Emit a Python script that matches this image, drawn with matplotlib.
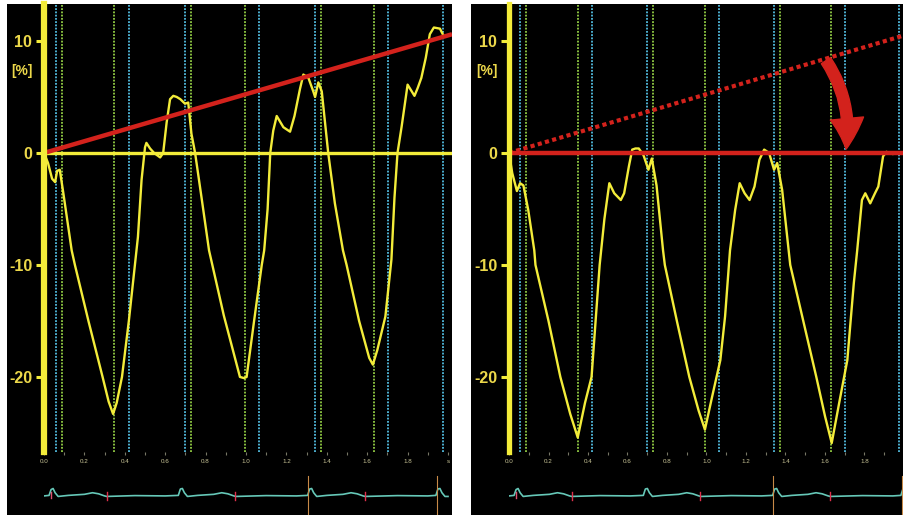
import matplotlib
matplotlib.use('Agg')
import matplotlib.pyplot as plt
from matplotlib.patches import FancyArrowPatch

plt.rcParams['font.family'] = ['Liberation Sans', 'DejaVu Sans']

#%% Data (strain %, time s)

# before drift correction
t_raw = [0.00, 0.02, 0.04, 0.055, 0.065, 0.078, 0.095, 0.137, 0.153, 0.22, 0.29, 0.32, 0.342,
         0.36, 0.386, 0.42, 0.45, 0.465, 0.483, 0.50, 0.507, 0.525, 0.545, 0.575, 0.59, 0.607,
         0.624, 0.64, 0.657, 0.675, 0.698, 0.714, 0.73, 0.748, 0.78, 0.817, 0.89, 0.97, 0.99,
         1.003, 1.04, 1.078, 1.09, 1.107, 1.12, 1.135, 1.152, 1.185, 1.218, 1.24, 1.267, 1.284,
         1.309, 1.333, 1.342, 1.358, 1.375, 1.407, 1.44, 1.48, 1.498, 1.56, 1.61, 1.628, 1.65,
         1.69, 1.72, 1.735, 1.75, 1.77, 1.80, 1.834, 1.85, 1.868, 1.89, 1.91, 1.93, 1.96, 1.98]
s_raw = [0.0, -0.9, -2.3, -2.6, -1.6, -1.5, -3.5, -8.7, -10.0, -15.0, -20.0, -22.2, -23.3,
         -22.3, -20.0, -15.0, -10.0, -7.5, -2.4, 0.5, 0.9, 0.4, 0.0, -0.4, 0.0, 2.7,
         4.8, 5.1, 5.0, 4.8, 4.4, 4.5, 1.7, 0.0, -4.0, -8.7, -14.5, -20.0, -20.1,
         -20.0, -15.0, -10.0, -8.7, -5.0, 0.0, 2.0, 3.3, 2.3, 1.9, 3.3, 5.7, 7.0,
         6.7, 5.5, 5.0, 6.3, 5.5, 0.0, -4.5, -8.7, -10.0, -15.0, -18.3, -18.9, -17.6,
         -14.6, -9.5, -4.0, 0.0, 2.3, 6.1, 5.1, 5.8, 6.7, 8.5, 10.6, 11.2, 11.1, 10.4]

# after drift correction
t_cor = [0.00, 0.0165, 0.04, 0.056, 0.073, 0.0975, 0.128, 0.134, 0.20, 0.26, 0.31, 0.348,
         0.385, 0.418, 0.459, 0.483, 0.508, 0.533, 0.566, 0.583, 0.607, 0.624, 0.64, 0.657,
         0.681, 0.706, 0.723, 0.747, 0.78, 0.789, 0.85, 0.913, 0.96, 0.992, 1.028, 1.07,
         1.094, 1.119, 1.145, 1.168, 1.193, 1.218, 1.243, 1.268, 1.292, 1.317, 1.342, 1.358,
         1.383, 1.416, 1.424, 1.49, 1.556, 1.60, 1.634, 1.672, 1.713, 1.746, 1.763, 1.787,
         1.804, 1.829, 1.853, 1.87, 1.894, 1.911, 1.944, 1.955]
s_cor = [0.0, -1.8, -3.4, -2.7, -2.9, -5.1, -8.7, -10.0, -15.0, -20.0, -23.3, -25.4,
         -22.3, -20.0, -10.0, -5.9, -2.7, -3.6, -4.2, -3.6, -1.2, 0.3, 0.4, 0.4,
         -0.2, -1.5, -0.5, -2.9, -8.7, -10.0, -15.0, -20.0, -23.0, -24.7, -21.8, -18.5,
         -14.6, -8.7, -5.1, -2.7, -3.6, -4.2, -3.0, -0.6, 0.3, 0.0, -1.5, -0.9,
         -3.3, -8.7, -10.0, -15.0, -20.0, -23.5, -25.9, -22.3, -18.5, -11.6, -8.7, -4.2,
         -3.6, -4.5, -3.6, -3.0, -0.3, 0.1, -0.1, 0.0]

# drift line end points
drift_t = [0.0, 2.02]
drift_s = [0.0, 10.6]

# event markers (dotted verticals)
ev_cyan = [0.057, 0.421, 0.70, 1.064, 1.34, 1.703, 1.975]
ev_green = [0.087, 0.349, 0.73, 0.993, 1.371, 1.632]

# ECG strip (px above baseline)
ecg_t = [0.0, 0.025, 0.035, 0.045, 0.055, 0.07, 0.12, 0.20, 0.24, 0.27, 0.30, 0.31, 0.45, 0.60,
         0.665, 0.675, 0.685, 0.695, 0.71, 0.76, 0.84, 0.88, 0.91, 0.94, 0.95, 1.10, 1.25,
         1.305, 1.315, 1.325, 1.335, 1.35, 1.40, 1.48, 1.52, 1.55, 1.58, 1.59, 1.75, 1.90,
         1.94, 1.95, 1.96, 1.97, 1.985, 2.0]
ecg_v = [0.0, 0.5, 6.0, 7.0, 3.0, -0.5, 0.5, 1.5, 3.0, 2.0, 0.0, -0.5, 0.3, 0.0,
         0.5, 6.5, 7.0, 3.0, -0.5, 0.5, 1.5, 3.0, 2.0, 0.0, -0.5, 0.3, 0.0,
         0.5, 6.5, 7.0, 3.0, -0.5, 0.5, 1.5, 3.0, 2.0, 0.0, -0.5, 0.3, 0.0,
         0.5, 6.5, 7.0, 3.0, -0.5, -0.5]
ecg_red = [0.31, 0.946, 1.59]
ecg_orange = [1.305, 1.944]

#%% Layout helpers
W, H = 904, 515
YELLOW = '#f3ec3a'
LABEL = '#ecd84a'
RED = '#d3221c'
CYAN = '#52bde0'
GREEN = '#92cc44'
TEAL = '#66c8b8'


def px_rect(x0, y0, x1, y1):
    return [x0 / W, 1 - y1 / H, (x1 - x0) / W, (y1 - y0) / H]


fig = plt.figure(figsize=(W / 100, H / 100), dpi=100, facecolor='white')

for rect in (px_rect(7, 4, 452, 515), px_rect(471, 4, 904, 515)):
    bg = fig.add_axes(rect)
    bg.set_facecolor('black')
    bg.set_xticks([])
    bg.set_yticks([])
    for sp in bg.spines.values():
        sp.set_visible(False)


def strain_panel(rect, xmax, spine_w):
    ax = fig.add_axes(rect)
    ax.set_facecolor('none')
    ax.set_xlim(0, xmax)
    ax.set_ylim(-26.7, 13.3)
    for k in ('top', 'right', 'bottom'):
        ax.spines[k].set_visible(False)
    ax.spines['left'].set_color(YELLOW)
    ax.spines['left'].set_linewidth(spine_w)
    ax.spines['left'].set_zorder(6)
    ax.set_yticks([10, 0, -10, -20])
    ax.set_yticklabels(['10', '0', '-10', '-20'])
    ax.tick_params(axis='y', colors=YELLOW, length=6, width=2.2, pad=2.5,
                   labelcolor=LABEL, labelsize=11.5)
    for lab in ax.get_yticklabels():
        lab.set_fontweight('bold')
    ax.set_xticks([0, 0.2, 0.4, 0.6, 0.8, 1.0, 1.2, 1.4, 1.6, 1.8, 2.0])
    ax.set_xticklabels(['0.0', '0.2', '0.4', '0.6', '0.8', '1.0', '1.2', '1.4', '1.6', '1.8', 's'])
    ax.set_xticks([0.1, 0.3, 0.5, 0.7, 0.9, 1.1, 1.3, 1.5, 1.7, 1.9], minor=True)
    ax.tick_params(axis='x', which='both', colors='#777766', length=2, width=0.8,
                   pad=3, labelcolor='#c8c496', labelsize=4.5)
    for t in ev_cyan:
        ax.axvline(t, color=CYAN, lw=1.3, ls=(0, (1, 0.8)), zorder=1)
    for t in ev_green:
        ax.axvline(t, color=GREEN, lw=1.3, ls=(0, (1, 0.8)), zorder=1)
    ax.annotate('[%]', xy=(0, 7.3), xycoords=ax.get_yaxis_transform(),
                xytext=(-8, 0), textcoords='offset points', ha='right', va='center',
                color=LABEL, fontsize=10, fontweight='bold')
    return ax


def ecg_panel(rect, xmax):
    ax = fig.add_axes(rect)
    ax.set_facecolor('none')
    ax.set_xlim(0, xmax)
    ax.set_ylim(-18, 32)
    ax.axis('off')
    ax.plot(ecg_t, ecg_v, color=TEAL, lw=1.2)
    for t in ecg_red:
        ax.plot([t, t], [-4, 4], color='#e0304c', lw=1.0)
    for t in ecg_orange:
        ax.plot([t, t], [-18, 19], color='#c88a48', lw=0.8)
    ax.plot([0.035, 0.035], [-2, 4], color='#e05070', lw=1.0)
    return ax


# Left: raw curve with drift line
axL = strain_panel(px_rect(44, 4, 452, 452), 408 / 202, 4.5)
axL.axhline(0, color=YELLOW, lw=2.4, zorder=3)
axL.plot(t_raw, s_raw, color=YELLOW, lw=1.7, zorder=4)
axL.plot(drift_t, drift_s, color=RED, lw=3.2, solid_capstyle='butt', zorder=5)
ecg_panel(px_rect(44, 462, 452, 515), 408 / 202)

# Right: drift-corrected curve
axR = strain_panel(px_rect(509, 4, 904, 452), 395 / 202, 3.8)
axR.plot(t_cor, s_cor, color=YELLOW, lw=1.7, zorder=4)
axR.plot(drift_t, drift_s, color=RED, lw=3.0, ls=(0, (1, 0.8)), zorder=5)
axR.axhline(0, color=RED, lw=3.2, zorder=5)
arrow = FancyArrowPatch((1.597, 8.45), (1.705, 0.1), connectionstyle='arc3,rad=-0.2',
                        arrowstyle='simple,head_length=1.1,head_width=1.2,tail_width=0.4',
                        mutation_scale=20, color=RED, zorder=7)
axR.add_patch(arrow)
ecg_panel(px_rect(509, 462, 904, 515), 395 / 202)

plt.savefig('out.png', dpi=100, facecolor='white')
